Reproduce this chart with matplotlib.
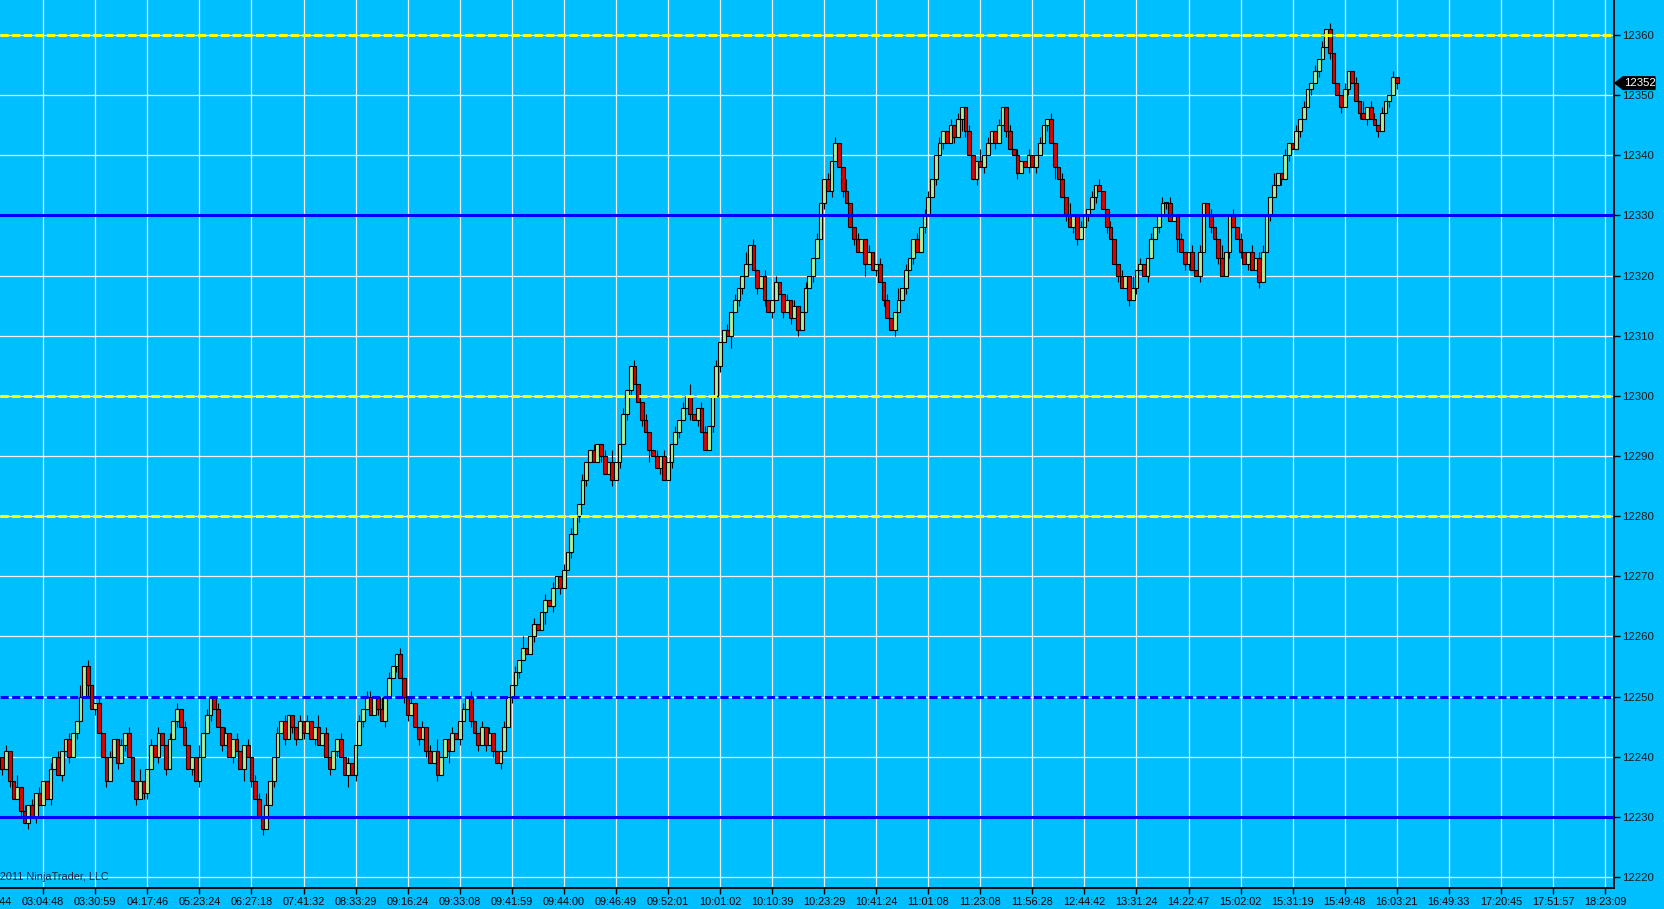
import matplotlib
matplotlib.use("Agg")
import matplotlib.pyplot as plt
from matplotlib.patches import Polygon
from matplotlib.transforms import blended_transform_factory
import numpy as np

plt.rcParams['font.family'] = ['Liberation Sans', 'DejaVu Sans']

# bar closes (one value per bar)
closes = [
    12240, 12238, 12241, 12236, 12233, 12235, 12231, 12229, 12232, 12230,
    12234, 12232, 12236, 12233, 12238, 12240, 12237, 12241, 12243, 12240,
    12244, 12246, 12250, 12255, 12252, 12248, 12249, 12244, 12240, 12236,
    12240, 12243, 12239, 12242, 12244, 12240, 12236, 12233, 12236, 12234,
    12238, 12242, 12240, 12244, 12242, 12238, 12243, 12246, 12248, 12245,
    12242, 12238, 12240, 12236, 12240, 12244, 12247, 12250, 12248, 12245,
    12242, 12244, 12240, 12243, 12241, 12238, 12242, 12240, 12236, 12233,
    12230, 12228, 12232, 12236, 12240, 12244, 12246, 12243, 12247, 12245,
    12243, 12246, 12244, 12246, 12243, 12245, 12242, 12244, 12240, 12238,
    12241, 12243, 12240, 12237, 12239, 12237, 12242, 12246, 12248, 12250,
    12247, 12250, 12248, 12246, 12250, 12253, 12255, 12257, 12253, 12250,
    12247, 12249, 12245, 12243, 12245, 12241, 12239, 12241, 12237, 12240,
    12243, 12241, 12244, 12243, 12246, 12248, 12250, 12246, 12244, 12242,
    12245, 12242, 12244, 12241, 12239, 12241, 12245, 12250, 12252, 12254,
    12256, 12258, 12257, 12260, 12262, 12261, 12264, 12266, 12265, 12268,
    12270, 12268, 12271, 12274, 12277, 12280, 12282, 12286, 12289, 12291,
    12289, 12292, 12290, 12287, 12289, 12286, 12289, 12292, 12297, 12301,
    12305, 12302, 12299, 12296, 12294, 12291, 12290, 12288, 12290, 12286,
    12289, 12292, 12294, 12296, 12298, 12300, 12297, 12296, 12298, 12294,
    12291, 12295, 12300, 12305, 12309, 12311, 12310, 12314, 12316, 12318,
    12320, 12322, 12325, 12321, 12318, 12320, 12316, 12314, 12316, 12319,
    12317, 12314, 12316, 12313, 12315, 12311, 12314, 12318, 12320, 12323,
    12326, 12332, 12336, 12334, 12339, 12342, 12338, 12334, 12332, 12328,
    12326, 12324, 12326, 12322, 12324, 12321, 12322, 12319, 12316, 12313,
    12311, 12314, 12316, 12318, 12321, 12323, 12326, 12324, 12328, 12330,
    12333, 12336, 12340, 12342, 12344, 12342, 12345, 12343, 12346, 12348,
    12344, 12340, 12336, 12339, 12338, 12340, 12342, 12344, 12342, 12345,
    12348, 12344, 12341, 12340, 12337, 12339, 12338, 12340, 12338, 12340,
    12342, 12345, 12346, 12342, 12338, 12336, 12333, 12330, 12328, 12330,
    12326, 12328, 12330, 12331, 12333, 12335, 12334, 12331, 12328, 12326,
    12322, 12320, 12318, 12320, 12316, 12318, 12321, 12322, 12320, 12323,
    12326, 12328, 12330, 12332, 12332, 12329, 12330, 12326, 12324, 12322,
    12324, 12321, 12320, 12324, 12332, 12330, 12328, 12326, 12323, 12320,
    12324, 12330, 12328, 12326, 12324, 12322, 12324, 12321, 12323, 12319,
    12324, 12330, 12333, 12335, 12337, 12336, 12340, 12342, 12341, 12344,
    12346, 12348, 12351, 12352, 12354, 12356, 12358, 12361, 12357, 12352,
    12350, 12348, 12351, 12354, 12352, 12349, 12347, 12346, 12348, 12346,
    12345, 12344, 12347, 12349, 12350, 12353, 12352,
]
first_open = 12238

# wick length above / below the body, in points, one digit per bar
wick_up = ("1010020101" "0100101001" "0020100100" "1001010020" "0101001010"
           "1000201001" "0100100101" "1020010100" "0101002010" "0010100101"
           "1002010010" "0100101020" "0010010100" "1010001001" "0200100101"
           "0010100100" "1001020010" "0100100101" "0010102001" "1001001010"
           "0201001001" "0010100100" "1001010020" "0100100101" "0020100101"
           "1001001010" "0100201001" "0010100100" "1001001020" "0100101001"
           "0010020100" "1001010010" "0101001002" "0010100101" "1002001001"
           "0100101010" "0010010201" "1010010")
wick_dn = ("0101001010" "1000100101" "0100201001" "0010100101" "1001010010"
           "0010100100" "1001002010" "0100100101" "1010010001" "0100201010"
           "0010100101" "1001010010" "0200100101" "0101010010" "1000100201"
           "0100101010" "0010010101" "1001020010" "0101001010" "0010100201"
           "1000101010" "0101010001" "0010100100" "1002001010" "0100101001"
           "0010100102" "1001010010" "0100100101" "0010200101" "1001010010"
           "0100101001" "0010100201" "1001001010" "0100101001" "0010010100"
           "1001010010" "0101001010" "0100101")

time_labels = ["03:04:48", "03:30:59", "04:17:46", "05:23:24", "06:27:18",
               "07:41:32", "08:33:29", "09:16:24", "09:33:08", "09:41:59",
               "09:44:00", "09:46:49", "09:52:01", "10:01:02", "10:10:39",
               "10:23:29", "10:41:24", "11:01:08", "11:23:08", "11:56:28",
               "12:44:42", "13:31:24", "14:22:47", "15:02:02", "15:31:19",
               "15:49:48", "16:03:21", "16:49:33", "17:20:45", "17:51:57",
               "18:23:09"]
cut_label = "02:38:44"   # only its end shows at the left edge

yellow_levels = [12360, 12300, 12280]
blue_levels = [12330, 12230]
blue_dash_levels = [12250]
last_price = 12352

# layout
W, H = 1664, 909
bars_per_label = 14
first_label_bar = 12
px_per_bar = 52.06 / bars_per_label
ax_right_px = 1614
ax_bottom_px = 888
x_left = first_label_bar - 43.2 / px_per_bar

bg = "#00BFFF"
fig = plt.figure(figsize=(W / 100, H / 100), dpi=100, facecolor=bg)
ax = fig.add_axes([0, (H - ax_bottom_px) / H, ax_right_px / W, ax_bottom_px / H])
ax.set_facecolor(bg)

n = len(closes)
x = np.arange(n)
opens = np.array([first_open] + closes[:-1])
c = np.array(closes)
up = np.array([int(d) for d in wick_up[:n].ljust(n, "0")])
dn = np.array([int(d) for d in wick_dn[:n].ljust(n, "0")])
hi = np.maximum(opens, c) + up
lo = np.minimum(opens, c) - dn

ax.vlines(x, lo, hi, color="black", linewidth=0.8, zorder=2)
colors = np.where(c >= opens, "#B0EE9C", "#E00000")
heights = np.abs(c - opens)
heights = np.where(heights == 0, 0.15, heights)
ax.bar(x, heights, bottom=np.minimum(opens, c), width=1.0, color=colors,
       edgecolor="black", linewidth=0.8, zorder=3)

# price levels
for lv in yellow_levels:
    ax.axhline(lv, color="#FFFF00", linewidth=2.2, linestyle=(0, (2.7, 1.1)), zorder=4)
for lv in blue_levels:
    ax.axhline(lv, color="#0000FF", linewidth=2.2, zorder=4)
for lv in blue_dash_levels:
    ax.axhline(lv, color="#0000FF", linewidth=2.2, linestyle=(0, (2.7, 1.1)), zorder=4)

# axes ranges
ppt = 6.014
ax.set_ylim(12360 - (ax_bottom_px - 35) / ppt, 12360 + 35 / ppt)
ax.set_xlim(x_left, x_left + ax_right_px / px_per_bar)

tick_pos = [first_label_bar + bars_per_label * k for k in range(len(time_labels))]
ax.set_xticks(tick_pos)
ax.set_xticklabels(time_labels)
ax.set_yticks(np.arange(12220, 12361, 10))
ax.grid(True, color="#F2F2F2", linewidth=0.9, zorder=1)
ax.set_axisbelow(True)

ax.yaxis.tick_right()
for s in ["left", "top"]:
    ax.spines[s].set_visible(False)
for s in ["right", "bottom"]:
    ax.spines[s].set_color("black")
    ax.spines[s].set_linewidth(1.3)
ax.tick_params(axis="x", direction="out", length=4.5, width=1, pad=2,
               labelsize=7.8, colors="black")
ax.tick_params(axis="y", direction="out", length=4, width=1, pad=1.5,
               labelsize=8.2, colors="black")
for t in ax.get_yticklabels():
    t.set_color("#1A1A1A")

# partially visible label at the left edge, placed like the tick labels
ax.annotate(cut_label, xy=(first_label_bar - bars_per_label, 0),
            xycoords=blended_transform_factory(ax.transData, ax.transAxes),
            xytext=(0, -6.5), textcoords="offset points",
            ha="center", va="top", fontsize=7.8, annotation_clip=False)

ax.text(-8 / ax_right_px, 6 / ax_bottom_px, "\u00a92011 NinjaTrader, LLC", transform=ax.transAxes,
        ha="left", va="bottom", fontsize=7.8, color="#202040", zorder=5)

# last price tag on the price axis
tr = blended_transform_factory(fig.transFigure, ax.transData)
x0, x1, x2 = 1615 / W, 1623 / W, 1655 / W
hh = 6.3 / ppt
tag = Polygon([[x0, last_price], [x1, last_price + hh], [x2, last_price + hh],
               [x2, last_price - hh], [x1, last_price - hh]], closed=True,
              transform=tr, facecolor="black", edgecolor="black", clip_on=False, zorder=6)
fig.add_artist(tag)
fig.text((x1 + x2) / 2 + 0.5 / W, last_price, str(last_price), transform=tr, ha="center", va="center",
         color="white", fontsize=8.2, zorder=7)

fig.savefig("out.png", dpi=100, facecolor=bg)
